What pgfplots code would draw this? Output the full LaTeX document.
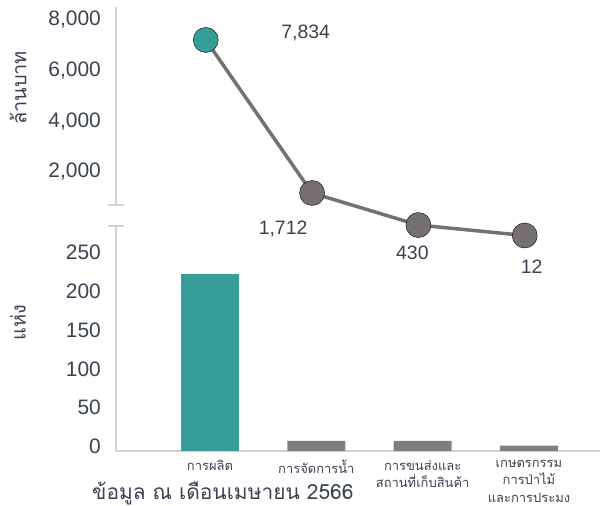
\documentclass[border=0pt]{standalone}
\usepackage{pgfplots}
\pgfplotsset{compat=1.18}
\usepackage{fontspec}
\setmainfont{Liberation Sans}
\newfontfamily\thaifont[Script=Thai]{Loma}

\definecolor{teal}{HTML}{359E96}
\definecolor{bargray}{HTML}{7F7F7F}
\definecolor{linegray}{HTML}{757170}
\definecolor{axisgray}{HTML}{D3D3D3}
\definecolor{txt}{HTML}{3A4150}

\pgfplotsset{
  common/.style={
    scale only axis, width=484bp,
    xmin=-0.884, xmax=3.668,
    major tick length=0pt,
    axis line style={-, draw=axisgray, line width=1.8bp},
    /pgf/number format/assume math mode=true,
    /pgf/number format/1000 sep={,},
    yticklabel style={font=\fontsize{21}{24}\selectfont, text=txt, inner sep=0pt, xshift=-15bp},
    ylabel style={font=\thaifont\fontsize{20}{24}\selectfont, text=txt},
  },
}

\begin{document}
\begin{tikzpicture}
\useasboundingbox (0bp,0bp) rectangle (600bp,506bp);

% bars (number of sites)
\begin{axis}[common,
  at={(116bp,55bp)}, anchor=south west, height=225bp,
  ymin=0, ymax=290,
  axis x line*=bottom, axis y line*=left,
  ytick={0,50,100,150,200,250},
  yticklabel style={yshift=4.5bp},
  extra y ticks={290}, extra y tick labels={},
  extra y tick style={major tick length=16bp, tick align=center, tick style={draw=axisgray, line width=1.8bp}},
  xtick={0,1,2,3},
  xticklabels={การผลิต, การจัดการน้ำ, {การขนส่งและ\\สถานที่เก็บสินค้า}, {เกษตรกรรม\\การป่าไม้\\และการประมง}},
  xticklabel style={font=\thaifont\fontsize{13}{17.5}\selectfont, text=txt, align=center, anchor=north, inner sep=0pt, yshift=-9bp},
  ylabel={แห่ง},
  every axis y label/.append style={at={(axis description cs:-0.2025,0.569)}, anchor=center},
]
\addplot[ybar, bar width=58bp, bar shift=0pt, fill=teal, draw=none] coordinates {(0,228)};
\addplot[ybar, bar width=58bp, bar shift=0pt, fill=bargray, draw=none] coordinates {(1,13) (2,13) (3,7)};
\end{axis}

% value axis (million baht)
\begin{axis}[common,
  at={(116bp,301bp)}, anchor=south west, height=198bp,
  ymin=697, ymax=8513,
  axis y line*=left, axis x line=none,
  ytick={2000,4000,6000,8000},
  extra y ticks={697}, extra y tick labels={},
  extra y tick style={major tick length=16bp, tick align=center, tick style={draw=axisgray, line width=1.8bp}},
  xtick=\empty,
  ylabel={ล้านบาท},
  every axis y label/.append style={at={(axis description cs:-0.2025,0.591)}, anchor=center},
]
\end{axis}

% line overlay
\begin{axis}[
  scale only axis, width=484bp, height=200bp,
  at={(116bp,270.2bp)}, anchor=south west,
  xmin=-0.884, xmax=3.668, ymin=0, ymax=8000,
  hide axis, clip=false,
]
\addplot[linegray, line width=3.5bp] coordinates {(-0.04,7834) (0.96,1712) (1.96,430) (2.96,12)};
\addplot[only marks, mark=*, mark size=12.5bp, mark options={fill=linegray, draw=none}] coordinates {(0.96,1712) (1.96,430) (2.96,12)};
\addplot[only marks, mark=*, mark size=12.5bp, mark options={fill=teal, draw=none}] coordinates {(-0.04,7834)};
\begin{scope}[every node/.style={font=\fontsize{19.5}{22}\selectfont, text=txt}]
\node[xshift=100bp, yshift=7bp] at (axis cs:-0.04,7834) {7,834};
\node[xshift=-29bp, yshift=-36bp] at (axis cs:0.96,1712) {1,712};
\node[xshift=-6bp, yshift=-28bp] at (axis cs:1.96,430) {430};
\node[xshift=7bp, yshift=-31bp] at (axis cs:2.96,12) {12};
\end{scope}
\end{axis}

\node[font=\thaifont\fontsize{21}{24}\selectfont, text=txt, anchor=west, inner sep=0pt] at (92bp,13bp) {ข้อมูล ณ เดือนเมษายน 2566};
\end{tikzpicture}
\end{document}
